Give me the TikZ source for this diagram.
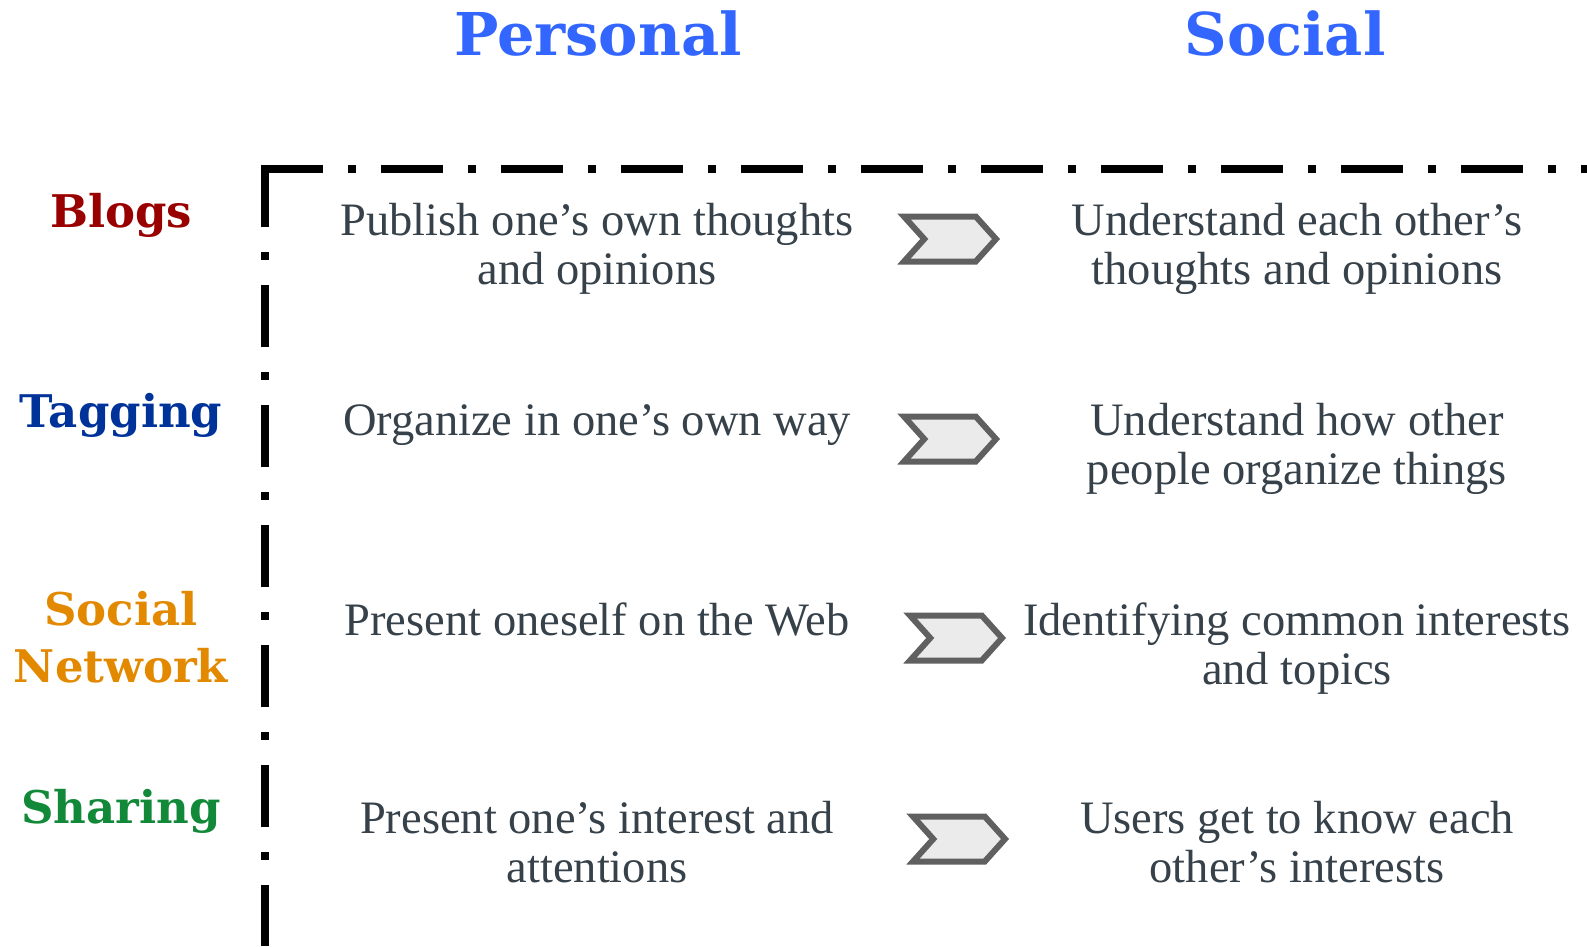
\documentclass[tikz,border=0pt]{standalone}
\usepackage{fontspec}
\setmainfont{DejaVu Serif}
\newfontfamily\bodyfont{Liberation Serif}
\usetikzlibrary{shapes,arrows,positioning}

\definecolor{HeadBlue}{RGB}{51,102,255}
\definecolor{BlogsRed}{RGB}{153,0,0}
\definecolor{TagBlue}{RGB}{0,51,153}
\definecolor{NetOrange}{RGB}{226,137,0}
\definecolor{ShareGreen}{RGB}{18,137,56}
\definecolor{TextGray}{RGB}{54,65,74}
\definecolor{ChevGray}{RGB}{96,96,96}
\definecolor{ChevFill}{RGB}{235,235,235}

\begin{document}
\begin{tikzpicture}[x=1pt, y=-1pt]
			\tikzstyle{Head}	= [font=\fontsize{59}{60}\selectfont\bfseries, text=HeadBlue, anchor=base, inner sep=0pt]
			\tikzstyle{Topic}	= [font=\fontsize{45}{57}\selectfont\bfseries, align=center, anchor=base, inner sep=0pt]
			\tikzstyle{Item}	= [font=\bodyfont\fontsize{46.5}{49}\selectfont, text=TextGray, align=center, anchor=base, inner sep=0pt]
			\tikzstyle{Chevron}	= [signal, signal from=west, signal to=east, signal pointer angle=96, draw=ChevGray, fill=ChevFill, line width=6pt, minimum width=92pt, minimum height=45pt, inner sep=0pt]
			\tikzstyle{Frame}	= [line width=8pt, dash pattern=on 62pt off 25pt on 8pt off 25pt]

			\useasboundingbox (0, 0) rectangle (1587, 946);

			\node (personal) at (598, 55) [Head] {Personal};
			\node (social) at (1285, 55) [Head] {Social};

			\draw [Frame] (265, 165) -- (265, 946);
			\draw [Frame] (261, 169) -- (1587, 169);

			\node (blogs) at (121, 227) [Topic, text=BlogsRed] {Blogs};
			\node (tagging) at (121, 427) [Topic, text=TagBlue] {Tagging};
			\node (network) at (121, 682) [Topic, text=NetOrange] {Social\\Network};
			\node (sharing) at (121, 823) [Topic, text=ShareGreen] {Sharing};

			\node (p1) at (597, 284) [Item] {Publish one’s own thoughts\\and opinions};
			\node (p2) at (597, 435) [Item] {Organize in one’s own way};
			\node (p3) at (597, 635) [Item] {Present oneself on the Web};
			\node (p4) at (597, 882) [Item] {Present one’s interest and\\attentions};

			\node (a1) at (950, 239) [Chevron] {};
			\node (a2) at (950, 439) [Chevron] {};
			\node (a3) at (956, 638) [Chevron] {};
			\node (a4) at (959, 839) [Chevron] {};

			\node (s1) at (1297, 284) [Item] {Understand each other’s\\thoughts and opinions};
			\node (s2) at (1297, 484) [Item] {Understand how other\\people organize things};
			\node (s3) at (1297, 684) [Item] {Identifying common interests\\and topics};
			\node (s4) at (1297, 882) [Item] {Users get to know each\\other’s interests};
		\end{tikzpicture}
\end{document}
